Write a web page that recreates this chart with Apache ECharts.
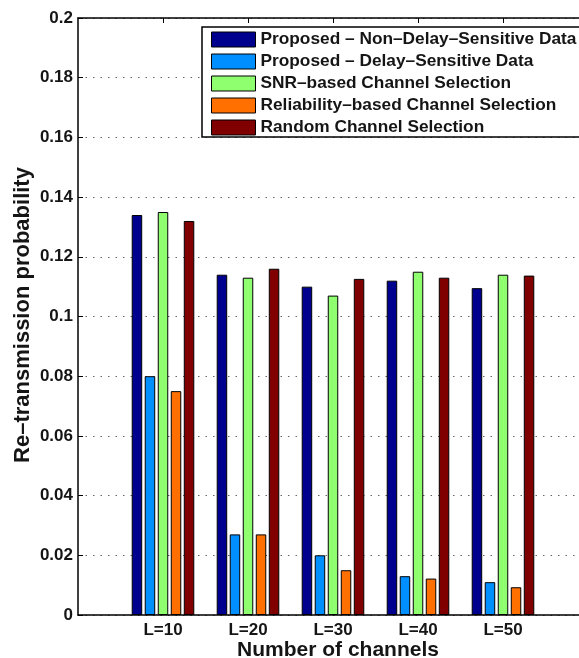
<!DOCTYPE html>
<html>
<head>
<meta charset="utf-8">
<title>Re-transmission probability vs. number of channels</title>
<script src="https://cdn.jsdelivr.net/npm/echarts@6/dist/echarts.min.js"></script>
<style>
  html, body { margin: 0; padding: 0; background: #fff; }
  #chart { width: 579px; height: 658px; }
</style>
</head>
<body>
<div id="chart"></div>
<script>
// Channel counts on the x axis
const categories = ['L=10', 'L=20', 'L=30', 'L=40', 'L=50'];

// Re-transmission probability per scheme
const proposedNonDelay = [0.134, 0.114, 0.110, 0.112, 0.1095];
const proposedDelay    = [0.080, 0.027, 0.020, 0.013, 0.011];
const snrBased         = [0.135, 0.113, 0.107, 0.115, 0.114];
const reliabilityBased = [0.075, 0.027, 0.015, 0.0122, 0.0093];
const randomSelection  = [0.132, 0.116, 0.1126, 0.113, 0.1137];

const seriesNames = [
  'Proposed – Non–Delay–Sensitive Data',
  'Proposed – Delay–Sensitive Data',
  'SNR–based Channel Selection',
  'Reliability–based Channel Selection',
  'Random Channel Selection'
];
const seriesValues = [proposedNonDelay, proposedDelay, snrBased, reliabilityBased, randomSelection];
const seriesColors = ['#00008f', '#008fff', '#8fff70', '#ff7000', '#800000'];

// y-axis ticks
const yMin = 0, yMax = 0.2, yStep = 0.02;

// One empty slot on each side so the groups sit one step in from the frame
const axisData = [''].concat(categories, ['']);
const pad = vals => [null].concat(vals, [null]);
const isCategory = idx => idx >= 1 && idx <= categories.length;

const FONT = '"Liberation Sans", Arial, Helvetica, sans-serif';
const INK = '#151515';

const chart = echarts.init(document.getElementById('chart'), null, { renderer: 'canvas' });

chart.setOption({
  backgroundColor: '#ffffff',
  animation: false,
  textStyle: { fontFamily: FONT },
  // the frame runs a little past the right edge of the canvas
  grid: { left: 78, top: 18, width: 510, height: 597, containLabel: false, outerBoundsMode: 'none' },
  legend: {
    orient: 'vertical',
    left: 202,
    top: 27,
    padding: [4, 0, 3, 9],
    itemWidth: 44,
    itemHeight: 15,
    itemGap: 5,
    icon: 'rect',
    selectedMode: false,
    itemStyle: { borderColor: '#000000', borderWidth: 1 },
    textStyle: { fontFamily: FONT, fontWeight: 'bold', fontSize: 17.3, color: INK, lineHeight: 15 },
    data: seriesNames,
    z: 6
  },
  xAxis: [
    {
      type: 'category',
      data: axisData,
      boundaryGap: false,
      position: 'bottom',
      axisLine: { show: true, onZero: false, lineStyle: { color: '#000', width: 1.5 } },
      axisTick: { show: true, inside: true, length: 5, interval: isCategory, lineStyle: { color: '#000', width: 1 } },
      axisLabel: { show: true, interval: 0, margin: 7, fontFamily: FONT, fontWeight: 'bold', fontSize: 17, color: INK },
      splitLine: { show: false }
    },
    {
      type: 'category',
      data: axisData,
      boundaryGap: false,
      position: 'top',
      axisLine: { show: true, onZero: false, lineStyle: { color: '#000', width: 1.5 } },
      axisTick: { show: true, inside: true, length: 5, interval: isCategory, lineStyle: { color: '#000', width: 1 } },
      axisLabel: { show: false },
      splitLine: { show: false }
    }
  ],
  yAxis: {
    type: 'value',
    min: yMin,
    max: yMax,
    interval: yStep,
    axisLine: { show: true, onZero: false, lineStyle: { color: '#000', width: 1.5 } },
    axisTick: { show: true, inside: true, length: 5, lineStyle: { color: '#000', width: 1 } },
    axisLabel: {
      margin: 5,
      fontFamily: FONT,
      fontWeight: 'bold',
      fontSize: 17,
      color: INK,
      formatter: v => String(parseFloat(v.toFixed(2)))
    },
    splitLine: { show: true, lineStyle: { color: '#666', width: 1, type: [1.5, 6] } }
  },
  series: seriesNames.map((name, i) => ({
    name: name,
    type: 'bar',
    xAxisIndex: 0,
    data: pad(seriesValues[i]),
    barWidth: 10.5,
    barGap: '24%',
    itemStyle: { color: seriesColors[i], borderColor: '#000', borderWidth: 1 },
    emphasis: { disabled: true },
    z: 3
  })),
  graphic: [
    {
      // legend frame, open past the right edge like the plot frame
      type: 'rect',
      shape: { x: 202, y: 27, width: 420, height: 110 },
      style: { fill: '#ffffff', stroke: '#000000', lineWidth: 1.5 },
      z: 5
    },
    {
      type: 'text',
      x: 338,
      y: 650.5,
      style: {
        text: 'Number of channels',
        font: 'bold 21px ' + FONT,
        fill: INK,
        align: 'center',
        verticalAlign: 'middle'
      },
      z: 10
    },
    {
      type: 'text',
      x: 23,
      y: 315,
      rotation: Math.PI / 2,
      style: {
        text: 'Re–transmission probability',
        font: 'bold 22px ' + FONT,
        fill: INK,
        align: 'center',
        verticalAlign: 'middle'
      },
      z: 10
    }
  ]
});
</script>
</body>
</html>
